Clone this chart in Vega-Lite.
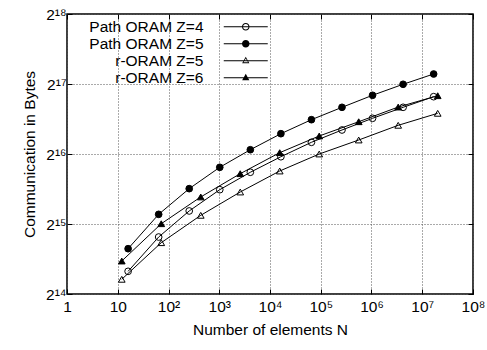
{
  "$schema": "https://vega.github.io/schema/vega-lite/v6.json",
  "width": 406,
  "height": 280,
  "autosize": {"type": "none"},
  "padding": {"left": 67, "top": 14, "right": 14, "bottom": 56},
  "background": "white",
  "config": {
    "view": {"stroke": "black", "strokeWidth": 1.5},
    "font": "Liberation Sans",
    "axis": {
      "grid": true,
      "gridColor": "#555",
      "gridDash": [1, 2],
      "gridWidth": 1,
      "domain": false,
      "ticks": true,
      "tickSize": -5,
      "tickColor": "black",
      "labelFont": "Liberation Sans",
      "titleFont": "Liberation Sans",
      "labelFontSize": 15.5,
      "titleFontSize": 15.5,
      "labelColor": "black",
      "titleColor": "black",
      "titleFontWeight": "normal"
    }
  },
  "data": {
    "values": [
      {"series": "Path ORAM Z=4", "N": 16, "bytes": 20508},
      {"series": "Path ORAM Z=4", "N": 64, "bytes": 28803},
      {"series": "Path ORAM Z=4", "N": 256, "bytes": 37284},
      {"series": "Path ORAM Z=4", "N": 1024, "bytes": 46020},
      {"series": "Path ORAM Z=4", "N": 4096, "bytes": 54690},
      {"series": "Path ORAM Z=4", "N": 16384, "bytes": 63793},
      {"series": "Path ORAM Z=4", "N": 65536, "bytes": 73578},
      {"series": "Path ORAM Z=4", "N": 262144, "bytes": 83120},
      {"series": "Path ORAM Z=4", "N": 1048576, "bytes": 93323},
      {"series": "Path ORAM Z=4", "N": 4194304, "bytes": 104052},
      {"series": "Path ORAM Z=4", "N": 16777216, "bytes": 115606},
      {"series": "Path ORAM Z=5", "N": 16, "bytes": 25657},
      {"series": "Path ORAM Z=5", "N": 64, "bytes": 36058},
      {"series": "Path ORAM Z=5", "N": 256, "bytes": 46498},
      {"series": "Path ORAM Z=5", "N": 1024, "bytes": 57449},
      {"series": "Path ORAM Z=5", "N": 4096, "bytes": 68367},
      {"series": "Path ORAM Z=5", "N": 16384, "bytes": 80124},
      {"series": "Path ORAM Z=5", "N": 65536, "bytes": 92040},
      {"series": "Path ORAM Z=5", "N": 262144, "bytes": 104052},
      {"series": "Path ORAM Z=5", "N": 1048576, "bytes": 117224},
      {"series": "Path ORAM Z=5", "N": 4194304, "bytes": 130709},
      {"series": "Path ORAM Z=5", "N": 16777216, "bytes": 144731},
      {"series": "r-ORAM Z=5", "N": 12, "bytes": 18951},
      {"series": "r-ORAM Z=5", "N": 72, "bytes": 27233},
      {"series": "r-ORAM Z=5", "N": 432, "bytes": 35711},
      {"series": "r-ORAM Z=5", "N": 2592, "bytes": 44978},
      {"series": "r-ORAM Z=5", "N": 15552, "bytes": 55378},
      {"series": "r-ORAM Z=5", "N": 93312, "bytes": 65536},
      {"series": "r-ORAM Z=5", "N": 559872, "bytes": 75281},
      {"series": "r-ORAM Z=5", "N": 3359232, "bytes": 87078},
      {"series": "r-ORAM Z=5", "N": 20155392, "bytes": 98037},
      {"series": "r-ORAM Z=6", "N": 12, "bytes": 22710},
      {"series": "r-ORAM Z=6", "N": 72, "bytes": 32859},
      {"series": "r-ORAM Z=6", "N": 432, "bytes": 42828},
      {"series": "r-ORAM Z=6", "N": 2592, "bytes": 53940},
      {"series": "r-ORAM Z=6", "N": 15552, "bytes": 66406},
      {"series": "r-ORAM Z=6", "N": 93312, "bytes": 78329},
      {"series": "r-ORAM Z=6", "N": 559872, "bytes": 90210},
      {"series": "r-ORAM Z=6", "N": 3359232, "bytes": 104338},
      {"series": "r-ORAM Z=6", "N": 20155392, "bytes": 116740}
    ]
  },
  "resolve": {
    "scale": {"shape": "independent"},
    "axis": {"x": "independent", "y": "independent"}
  },
  "layer": [
    {
      "mark": {"type": "line", "color": "black", "strokeWidth": 1},
      "encoding": {
        "x": {
          "field": "N",
          "type": "quantitative",
          "scale": {"type": "log", "domain": [1, 100000000]},
          "axis": {
            "title": "Number of elements N",
            "values": [1, 10, 100, 1000, 10000, 100000, 1000000, 10000000, 100000000],
            "labelExpr": "datum.value < 5 ? '1' : datum.value < 50 ? '10' : '10' + ['','','²','³','⁴','⁵','⁶','⁷','⁸'][round(log(datum.value)/LN10)]",
            "labelPadding": 10,
            "titlePadding": 8,
            "labelFlush": false
          }
        },
        "y": {
          "field": "bytes",
          "type": "quantitative",
          "scale": {"type": "log", "base": 2, "domain": [16384, 262144]},
          "axis": {
            "title": "Communication in Bytes",
            "values": [16384, 32768, 65536, 131072, 262144],
            "labelExpr": "'2' + ['¹⁴','¹⁵','¹⁶','¹⁷','¹⁸'][round(log(datum.value)/LN2) - 14]",
            "labelPadding": 6,
            "titlePadding": 8,
            "labelFlush": false
          }
        },
        "detail": {"field": "series"}
      }
    },
    {
      "mark": {"type": "point", "size": 45, "strokeWidth": 1, "stroke": "black", "opacity": 1},
      "encoding": {
        "x": {"field": "N", "type": "quantitative", "axis": null},
        "y": {"field": "bytes", "type": "quantitative", "axis": null},
        "shape": {
          "field": "series",
          "type": "nominal",
          "scale": {
            "domain": ["Path ORAM Z=4", "Path ORAM Z=5", "r-ORAM Z=5", "r-ORAM Z=6"],
            "range": ["circle", "circle", "triangle-up", "triangle-up"]
          },
          "legend": null
        },
        "fill": {
          "field": "series",
          "type": "nominal",
          "scale": {
            "domain": ["Path ORAM Z=4", "Path ORAM Z=5", "r-ORAM Z=5", "r-ORAM Z=6"],
            "range": ["transparent", "black", "transparent", "black"]
          },
          "legend": null
        }
      }
    },
    {
      "mark": {"type": "point", "filled": true, "color": "black", "opacity": 0, "strokeWidth": 0},
      "encoding": {
        "x": {
          "field": "N",
          "type": "quantitative",
          "axis": {
            "orient": "top",
            "values": [1, 10, 100, 1000, 10000, 100000, 1000000, 10000000, 100000000],
            "labels": false,
            "grid": false,
            "title": null
          }
        },
        "y": {
          "field": "bytes",
          "type": "quantitative",
          "axis": {
            "orient": "right",
            "values": [16384, 32768, 65536, 131072, 262144],
            "labels": false,
            "grid": false,
            "title": null
          }
        },
        "shape": {
          "field": "series",
          "type": "nominal",
          "scale": {
            "domain": ["Path ORAM Z=4", "Path ORAM Z=5", "r-ORAM Z=5", "r-ORAM Z=6"],
            "range": [
              "M-4.4,-0.1H4.4V0.1H-4.4ZM0.75,0A0.75,0.75,0,1,1,-0.75,0A0.75,0.75,0,1,1,0.75,0ZM0.55,0A0.55,0.55,0,1,0,-0.55,0A0.55,0.55,0,1,0,0.55,0Z",
              "M-4.4,-0.1H4.4V0.1H-4.4ZM0.75,0A0.75,0.75,0,1,1,-0.75,0A0.75,0.75,0,1,1,0.75,0Z",
              "M-4.4,-0.1H4.4V0.1H-4.4ZM0,-0.8L0.72,0.5L-0.72,0.5ZM0,-0.45L-0.45,0.32L0.45,0.32Z",
              "M-4.4,-0.1H4.4V0.1H-4.4ZM0,-0.8L0.72,0.5L-0.72,0.5Z"
            ]
          },
          "legend": {
            "orient": "none",
            "legendX": 171,
            "legendY": 5,
            "title": null,
            "labelFontSize": 15.5,
            "labelFont": "Liberation Sans",
            "labelColor": "black",
            "labelAlign": "right",
            "labelOffset": -50,
            "symbolSize": 100,
            "symbolOpacity": 1,
            "symbolFillColor": "black",
            "symbolStrokeWidth": 0,
            "rowPadding": 0
          }
        }
      }
    }
  ]
}
